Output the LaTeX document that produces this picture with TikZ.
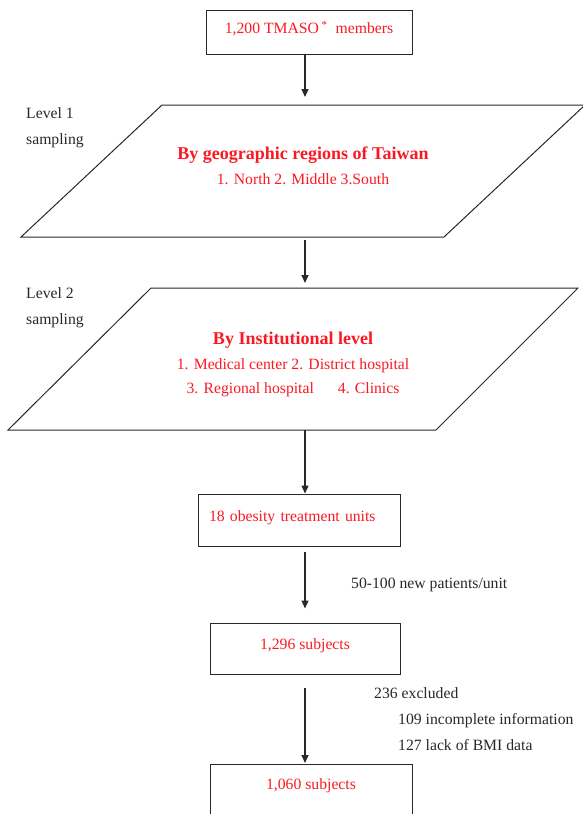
\documentclass[tikz,border=0pt]{standalone}
\usepackage{fontspec}
\setmainfont{Liberation Serif}
\usetikzlibrary{arrows.meta}
\definecolor{tmred}{RGB}{250,25,35}
\definecolor{ink}{RGB}{40,40,40}

\begin{document}
\begin{tikzpicture}[x=1pt, y=-1pt, every node/.style={font=\fontsize{15.7}{26}\selectfont}, unit/.style={rectangle, draw=ink, line width=1pt, text=tmred, inner sep=0pt, text height=11pt, text depth=9pt}, level/.style={ink, align=left, inner sep=0pt, anchor=north west}, stage/.style={tmred, align=center, inner sep=0pt, anchor=north, font=\fontsize{15.7}{24.5}\selectfont}, flow/.style={-{Triangle[length=8pt, width=7pt]}, line width=1.2pt, ink}]

  \path[use as bounding box, clip] (0,0) rectangle (583,814);

  \node[unit, minimum width=206pt, minimum height=44pt] (tmaso) at (309,32.5) {1,200 TMASO\,\textsuperscript{*}\hspace{8pt}members};

  \coordinate (geoBL) at (21,237);
  \coordinate (geoBR) at (444,237);
  \coordinate (geoTR) at (585,105);
  \coordinate (geoTL) at (162,105);
  \draw[ink, line width=1pt] (geoBL) -- (geoBR) -- (geoTR) -- (geoTL) -- cycle;
  \node[level] (lv1) at (26,107) {Level 1\\sampling};
  \node[stage] (geo) at (303,147) {{\bfseries\fontsize{18}{24.5}\selectfont By geographic regions of Taiwan}\\1. North 2. Middle 3.South};

  \coordinate (instBL) at (8,430);
  \coordinate (instBR) at (436,430);
  \coordinate (instTR) at (578,288);
  \coordinate (instTL) at (151,288);
  \draw[ink, line width=1pt] (instBL) -- (instBR) -- (instTR) -- (instTL) -- cycle;
  \node[level] (lv2) at (26,287) {Level 2\\sampling};
  \node[stage] (inst) at (293,332) {{\bfseries\fontsize{18}{24.5}\selectfont By Institutional level}\\1. Medical center 2. District hospital\\3. Regional hospital\hspace*{24pt}4. Clinics};

  \coordinate (geoin) at (305,97);
  \coordinate (geoout) at (305,240);
  \coordinate (instin) at (305,283);
  \coordinate (instout) at (305,430);

  \node[unit, minimum width=202pt, minimum height=52pt, text width=180pt, align=left, inner xsep=11pt] (units) at (299,520) {18 obesity treatment units};
  \node[unit, minimum width=190pt, minimum height=51pt] (cohort) at (305,648.5) {1,296 subjects};
  \node[unit, minimum width=202pt, minimum height=60pt, text depth=21pt, anchor=north] (final) at (311,764) {1,060 subjects};

  \node[ink, anchor=base west, inner sep=0pt] (rate) at (351,588) {50-100 new patients/unit};
  \node[level] (excl) at (374,687) {236 excluded\\\hspace*{24pt}109 incomplete information\\\hspace*{24pt}127 lack of BMI data};

  \draw[flow] (tmaso.south -| geoin) -- (geoin);
  \draw[flow] (geoout) -- (instin);
  \draw[flow] (instout) -- (units.north -| instout);
  \draw[flow, shorten <=5pt, shorten >=14pt] (units.south -| cohort.north) -- (cohort.north);
  \draw[flow, shorten <=13pt, shorten >=1pt] (cohort.south) -- (final.north -| cohort.south);
\end{tikzpicture}
\end{document}
